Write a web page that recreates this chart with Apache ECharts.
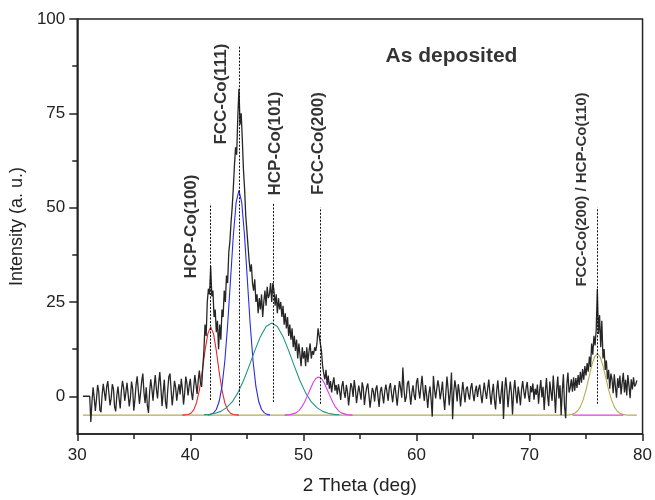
<!DOCTYPE html>
<html>
<head>
<meta charset="utf-8">
<script src="https://cdn.jsdelivr.net/npm/echarts@6/dist/echarts.min.js"></script>
<style>html,body{margin:0;padding:0;background:#fff}#c{width:655px;height:500px}</style>
</head>
<body>
<div id="c"></div>
<script>
// ---- data ----
const scanStart = 30.5;
const scanStep = 0.1;
const intensity = [
 0, 0, 0, 0, 0,
 0, 0, -6.8, -1.5, 2.4, -0.5, -3.9, -0.8, 3.0, 1.2,
 -3.6, -4.2, 0.4, 3.3, 1.0, -1.2, 2.5, 4.0, 0.8, -2.4,
 -0.5, 3.2, 2.0, -2.8, -4.0, 0.2, 2.6, -0.6, -3.2, 1.4,
 4.1, 2.3, -1.2, 1.0, 3.6, 0.5, -2.7, -0.4, 3.9, 2.0,
 -3.8, -0.9, 3.0, 5.3, 1.6, -2.0, 0.8, 4.0, 6.0, 1.0,
 -1.8, 2.4, -2.5, -4.4, 1.2, 4.5, 2.0, -1.2, 2.6, 5.6,
 1.8, -0.6, 3.5, 6.4, 2.2, -2.6, 1.0, 4.4, -1.4, -3.3,
 1.6, 5.2, 6.0, 1.8, -2.4, 0.6, 4.1, 2.4, -1.2, 1.4,
 3.2, 0.5, 4.6, 2.0, -2.2, 0.9, 5.2, 3.4, 0.2, 2.8,
 4.6, 1.0, -1.0, 2.4, 5.6, 3.2, 0.6, 4.2, 6.8, 3.5,
 2.5, 7.5, 12, 19, 16, 25, 28.5, 27, 34.5, 26.5,
 28, 21, 23, 17, 20, 12.5, 19, 15, 23, 21,
 28, 25, 32, 30, 38, 41, 46, 50, 55, 61,
 66, 64, 74, 81.5, 72, 75, 68, 60, 55, 48,
 44, 40, 36, 33, 35, 30, 28, 31, 25, 27,
 22, 26, 23, 27, 21, 25, 28, 24, 29, 26,
 27, 30, 25, 30, 28, 24, 27, 22, 26, 23,
 25, 21, 24, 19, 22, 18, 21, 16, 19, 15,
 18, 13, 16, 12, 15, 10, 14, 11, 8, 13,
 10, 12, 8, 13, 9, 12, 14, 10, 12, 11,
 13, 12, 14, 18, 16, 14, 12, 8, 6, 4.5,
 7, 3, 5.5, 2, 4, 1, 3.5, 5, 1.5, 3,
 0.5, 3.2, 1.5, -1.0, 2.6, 4.0, 1.0, -0.4, 3.0, 1.2,
 -2.4, 0.5, 3.5, 2.4, -0.2, 4.3, 2.0, -1.8, 0.6, 2.8,
 1.0, -0.9, 3.7, 2.2, -2.3, 0.4, 2.4, 3.4, 0.2, -3.0,
 -0.4, 2.2, 1.2, -1.4, 1.8, 2.9, -0.2, -2.8, 1.2, 2.5,
 0.3, -1.9, 1.4, 3.1, 1.0, -1.2, 2.3, 3.5, 0.6, -1.6,
 1.5, 3.0, 0.2, -2.5, 1.0, 4.0, 2.2, -0.4, 7.6, 1.8,
 -1.5, -0.2, 3.4, 4.1, 0.7, -2.2, 1.0, 2.9, 0.2, -1.0,
 3.6, 4.8, 1.5, -0.6, 2.8, 5.4, 1.2, -1.2, 3.0, 0.4,
 -3.1, 0.6, 2.6, -1.0, -5.4, 5.4, 1.8, -0.6, 2.0, 4.2,
 2.4, -0.8, 1.2, 3.9, -0.5, -3.6, 0.8, 5.2, 2.0, -2.4,
 1.0, 6.3, -6.1, 1.0, 4.2, 2.1, -1.4, 3.2, 1.0, -2.7,
 0.6, 3.8, 1.0, -1.6, 1.9, 2.6, 0.4, -0.9, 2.2, 3.5,
 0.6, -1.3, 1.4, 2.8, -0.2, 1.9, 3.1, 0.4, -1.8, 1.0,
 3.6, 1.2, -0.7, 2.0, 4.4, 0.8, -2.2, 0.9, 3.3, -1.0,
 -3.5, 1.6, 4.2, 0.4, -2.0, 1.0, 4.0, -6.0, 1.1, 5.0,
 1.8, -2.9, 0.7, 3.9, 1.0, -4.8, 1.4, 4.3, 0.6, -1.9,
 2.6, 0.4, -2.4, 1.9, 4.0, 1.2, -0.6, 2.2, 3.8, 0.3,
 -1.5, 2.7, 1.0, 3.4, -0.9, 2.0, 0.4, 3.1, -2.0, 1.6,
 4.3, -0.3, 2.5, -3.6, 1.2, 4.8, 0.2, -2.6, 3.9, 1.1,
 -1.2, 5.5, 1.0, -4.4, 1.7, 5.2, -0.6, 2.9, -5.0, 1.4,
 5.8, -2.7, -5.8, 3.0, 6.3, 1.0, 2.2, 4.5, 1.2, 5.0,
 1.5, 4.8, 2.2, 5.6, 3.0, 6.5, 3.6, 7.2, 4.4, 8.0,
 5.5, 8.8, 6.5, 10.5, 7.8, 14.0, 11.0, 16.0, 13.5, 17.5,
 28.4, 16.5, 21.5, 13.0, 20.0, 10.0, 12.5, 7.0, 9.5, 4.5,
 7.0, 2.0, 6.0, 4.5, 0.8, 5.8, 2.5, -0.4, 4.8, 2.2,
 5.5, 0.5, 3.6, 6.2, 1.0, 4.4, 0.2, 5.6, 2.8, -0.5,
 4.5, 1.8, 5.0, 2.6, 3.2, 4.2
];

// fitted peak components
const redFit = [[39.3,-5],[39.8,-4.85],[40.05,-4.5],[40.3,-3.6],[40.55,-1.7],[40.8,1.6],[41.05,6.5],[41.3,12.1],[41.55,16.6],[41.8,18.4],[42.05,16.6],[42.3,12.1],[42.55,6.5],[42.8,1.6],[43.05,-1.7],[43.3,-3.6],[43.55,-4.5],[43.8,-4.85],[44.3,-5]];
const blueFit = [[41.55,-4.95],[41.8,-4.8],[42.05,-4.4],[42.3,-3.5],[42.55,-1.4],[42.8,2.6],[43.05,9.3],[43.3,18.9],[43.55,30.6],[43.8,42.4],[44.05,51.3],[44.3,54.6],[44.55,51.3],[44.8,42.4],[45.05,30.6],[45.3,18.9],[45.55,9.3],[45.8,2.6],[46.05,-1.4],[46.3,-3.5],[46.55,-4.4],[46.8,-4.8],[47.05,-4.95]];
const tealFit = [[41.2,-4.9],[41.7,-4.8],[42.2,-4.5],[42.7,-4.0],[43.2,-3.0],[43.7,-1.5],[44.2,0.9],[44.7,4.1],[45.2,8.0],[45.7,12.1],[46.2,15.8],[46.7,18.5],[47.2,19.4],[47.7,18.5],[48.2,15.8],[48.7,12.1],[49.2,8.0],[49.7,4.1],[50.2,0.9],[50.7,-1.5],[51.2,-3.0],[51.7,-4.0],[52.2,-4.5],[52.7,-4.8],[53.2,-4.9]];
const magentaFit = [[48.35,-5],[48.85,-4.87],[49.35,-4.4],[49.6,-3.8],[49.85,-2.9],[50.1,-1.6],[50.35,0.1],[50.6,1.8],[50.85,3.5],[51.1,4.7],[51.35,5.1],[51.6,4.7],[51.85,3.5],[52.1,1.8],[52.35,0.1],[52.6,-1.6],[52.85,-2.9],[53.1,-3.8],[53.35,-4.4],[53.85,-4.87],[54.35,-5]];
const magentaBase = [[73.8,-5],[78.3,-5]];
const oliveFit = [[30.5,-5],[73.25,-5],[73.5,-4.93],[73.75,-4.8],[74.0,-4.5],[74.25,-3.9],[74.5,-2.8],[74.75,-0.9],[75.0,1.7],[75.25,4.9],[75.5,8.1],[75.75,10.4],[76.0,11.3],[76.25,10.4],[76.5,8.1],[76.75,4.9],[77.0,1.7],[77.25,-0.9],[77.5,-2.8],[77.75,-3.9],[78.0,-4.5],[78.25,-4.8],[78.5,-4.93],[78.75,-5],[79.5,-5]];

// peak marker lines
const peakTheta = [41.75, 44.3, 47.35, 51.45, 76.0];
const markerTop = [51, 93, 51, 50, 50];
const markerBottom = [-1, -2.5, -1.5, -2, -2];
const peakNames = ['HCP-Co(100)', 'FCC-Co(111)', 'HCP-Co(101)', 'FCC-Co(200)', 'FCC-Co(200) / HCP-Co(110)'];
const sampleName = 'As deposited';

const xTicks = [30, 40, 50, 60, 70, 80];
const yTicks = [0, 25, 50, 75, 100];
const yMinorTicks = [12.5, 37.5, 62.5, 87.5];

// ---- chart ----
const FONT = '"Liberation Sans", Arial, Helvetica, sans-serif';
const scan = intensity.map((v, i) => [+(scanStart + i * scanStep).toFixed(2), v]);

// annotation placement (data coordinates) and text sizes
const annotationPlace = [
  {pos: [40.07, 45.0], size: 17, rotate: 90},
  {pos: [42.70, 80.1], size: 17, rotate: 90},
  {pos: [47.51, 67.0], size: 17, rotate: 90},
  {pos: [51.32, 67.0], size: 17, rotate: 90},
  {pos: [74.66, 54.8], size: 15, rotate: 90}
];
const annotations = peakNames.map((n, i) => ({
  name: n, value: annotationPlace[i].pos,
  label: {fontSize: annotationPlace[i].size, rotate: annotationPlace[i].rotate}
}));
annotations.push({name: sampleName, value: [63.1, 90.1], label: {fontSize: 21, rotate: 0}});

function fitSeries(data, color) {
  return {type: 'line', data: data, symbol: 'none', silent: true,
    lineStyle: {color: color, width: 1.1}, animation: false, z: 2};
}

const chart = echarts.init(document.getElementById('c'), null, {renderer: 'canvas'});
chart.setOption({
  animation: false,
  backgroundColor: '#fff',
  grid: {left: 75, right: 9, top: 19, bottom: 60, show: true, borderColor: '#222', borderWidth: 1.5, backgroundColor: 'transparent'},
  xAxis: {
    type: 'value', min: 30, max: 80, interval: 10,
    name: '2 Theta (deg)', nameLocation: 'middle', nameGap: 42,
    nameTextStyle: {fontFamily: FONT, fontSize: 19, color: '#222'},
    axisLine: {show: true, onZero: false, lineStyle: {color: '#222', width: 1.5}},
    axisTick: {show: true, inside: false, length: 7, lineStyle: {color: '#222', width: 1.5}},
    minorTick: {show: true, splitNumber: 2, length: 5, lineStyle: {color: '#222', width: 1.5}},
    axisLabel: {fontFamily: FONT, fontSize: 17, color: '#222', margin: 13,
      customValues: xTicks},
    splitLine: {show: false}
  },
  yAxis: [{
    type: 'value', min: -10, max: 100,
    name: 'Intensity (a. u.)', nameLocation: 'middle', nameGap: 47, nameRotate: 90,
    nameTextStyle: {fontFamily: FONT, fontSize: 18, color: '#222'},
    axisLine: {show: true, onZero: false, lineStyle: {color: '#222', width: 1.5}},
    axisTick: {show: true, length: 8, customValues: yTicks, lineStyle: {color: '#222', width: 1.5}},
    axisLabel: {fontFamily: FONT, fontSize: 17, color: '#222', margin: 12, customValues: yTicks},
    splitLine: {show: false}
  }, {
    type: 'value', min: -10, max: 100, position: 'left',
    axisLine: {show: false, onZero: false},
    axisTick: {show: true, length: 5, customValues: yMinorTicks, lineStyle: {color: '#222', width: 1.5}},
    axisLabel: {show: false},
    splitLine: {show: false}
  }],
  series: [
    fitSeries(oliveFit, '#b3ad52'),
    fitSeries(magentaBase, '#e23de2'),
    fitSeries(redFit, '#e8262b'),
    fitSeries(blueFit, '#2a2ae0'),
    fitSeries(tealFit, '#1f9586'),
    fitSeries(magentaFit, '#e23de2'),
    {
      type: 'line', data: scan, symbol: 'none', silent: true, z: 3,
      lineStyle: {color: '#262626', width: 1.3},
      markLine: {
        silent: true, symbol: ['none', 'none'], animation: false,
        label: {show: false},
        lineStyle: {color: '#111', width: 1, type: [2, 1.5]},
        data: peakTheta.map((t, i) => [{coord: [t, markerBottom[i]]}, {coord: [t, markerTop[i]]}])
      }
    },
    {
      type: 'scatter', data: annotations, symbolSize: 0, silent: true, z: 5,
      label: {show: true, position: 'inside', formatter: '{b}', fontFamily: FONT,
        fontWeight: 'bold', color: '#000', align: 'center', verticalAlign: 'middle'}
    }
  ]
});
</script>
</body>
</html>
